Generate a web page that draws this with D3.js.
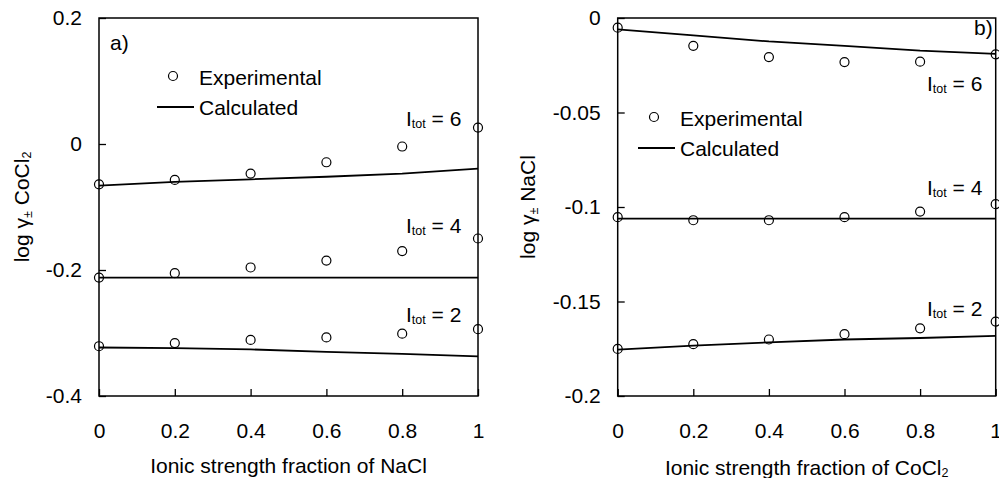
<!DOCTYPE html>
<html lang="en">
<head>
  <meta charset="UTF-8">
  <script src="https://d3js.org/d3.v7.min.js"></script>
  <title>log gamma vs ionic strength fraction</title>
  <style>
    body { margin: 0; background: white; }
    svg { display: block; font-family: "Liberation Sans", Arial, sans-serif; }
  </style>
</head>
<body>
  <svg width="999" height="478"></svg>
  <script>
    // x values of the measurements and the model curves
    const fractions = [0, 0.2, 0.4, 0.6, 0.8, 1];
    const xTicks = [0, 0.2, 0.4, 0.6, 0.8, 1];
    const xTickLabels = ["0", "0.2", "0.4", "0.6", "0.8", "1"];
    const levels = [6, 4, 2];

    // panel a) log γ± CoCl2 vs fraction of NaCl
    const expA6 = [-0.064, -0.057, -0.047, -0.029, -0.004, 0.026];
    const expA4 = [-0.212, -0.205, -0.196, -0.185, -0.170, -0.150];
    const expA2 = [-0.321, -0.316, -0.311, -0.307, -0.301, -0.294];
    const calcA6 = [-0.066, -0.060, -0.056, -0.052, -0.047, -0.039];
    const calcA4 = [-0.212, -0.212, -0.212, -0.212, -0.212, -0.212];
    const calcA2 = [-0.323, -0.324, -0.326, -0.330, -0.333, -0.337];
    const yTicksA = [0.2, 0, -0.2, -0.4];
    const yTickLabelsA = ["0.2", "0", "-0.2", "-0.4"];

    // panel b) log γ± NaCl vs fraction of CoCl2
    const expB6 = [-0.0051, -0.0147, -0.0207, -0.0233, -0.0231, -0.0192];
    const expB4 = [-0.1054, -0.1070, -0.1070, -0.1054, -0.1024, -0.0985];
    const expB2 = [-0.1751, -0.1726, -0.1701, -0.1673, -0.1642, -0.1606];
    const calcB6 = [-0.0060, -0.0092, -0.0124, -0.0147, -0.0173, -0.0190];
    const calcB4 = [-0.1061, -0.1061, -0.1061, -0.1061, -0.1061, -0.1061];
    const calcB2 = [-0.1755, -0.1733, -0.1716, -0.1701, -0.1693, -0.1682];
    const yTicksB = [0, -0.05, -0.1, -0.15, -0.2];
    const yTickLabelsB = ["0", "-0.05", "-0.1", "-0.15", "-0.2"];

    const svg = d3.select("svg");
    const FS = 21;

    const drawPanel = (p) => {
      const xScale = d3.scaleLinear().domain([0, 1]).range([p.left, p.right]);
      const yScale = d3.scaleLinear().domain(p.yDomain).range([396, 18]);
      const g = svg.append("g");

      const xAxis = d3.axisBottom(xScale)
        .tickValues(xTicks)
        .tickFormat((d, i) => xTickLabels[i])
        .tickSizeInner(-7).tickSizeOuter(0).tickPadding(27);
      const yAxis = d3.axisLeft(yScale)
        .tickValues(p.yTicks)
        .tickFormat((d, i) => p.yTickLabels[i])
        .tickSizeInner(-7).tickSizeOuter(0).tickPadding(17);

      g.append("g").attr("transform", "translate(0,396)").call(xAxis);
      g.append("g").attr("transform", `translate(${p.left},0)`).call(yAxis);
      g.selectAll(".domain").remove();
      g.selectAll(".tick line").attr("stroke", "#000").attr("stroke-width", 1.3);
      g.selectAll(".tick text").attr("font-size", FS).attr("font-family", null).attr("fill", "#000");

      // frame
      g.append("rect")
        .attr("x", p.left).attr("y", 18)
        .attr("width", p.right - p.left).attr("height", 378)
        .attr("fill", "none").attr("stroke", "#000").attr("stroke-width", 1.5);

      const line = d3.line().x((d, i) => xScale(fractions[i])).y(d => yScale(d));
      p.calc.forEach(series => {
        g.append("path").attr("d", line(series))
          .attr("fill", "none").attr("stroke", "#000").attr("stroke-width", 1.8);
      });
      p.exp.forEach(series => {
        g.selectAll(null).data(series).enter().append("circle")
          .attr("cx", (d, i) => xScale(fractions[i]))
          .attr("cy", d => yScale(d))
          .attr("r", 4.5)
          .attr("fill", "none").attr("stroke", "#000").attr("stroke-width", 1.2);
      });

      // I_tot labels
      levels.forEach((lv, i) => {
        const t = g.append("text").attr("x", p.levelX).attr("y", p.levelY[i]).attr("font-size", FS);
        t.append("tspan").text("I");
        t.append("tspan").attr("font-size", 12.5).attr("dy", 2).text("tot");
        t.append("tspan").attr("dy", -2).text(" = " + lv);
      });

      g.append("text").attr("x", p.tagX).attr("y", p.tagY).attr("font-size", FS).text(p.tag);

      // legend
      g.append("circle").attr("cx", p.legX).attr("cy", p.legY)
        .attr("r", 4.5).attr("fill", "none").attr("stroke", "#000").attr("stroke-width", 1.2);
      g.append("text").attr("x", p.legX + 26).attr("y", p.legY + 8.5).attr("font-size", FS).text("Experimental");
      g.append("line").attr("x1", p.legX - 16).attr("x2", p.legX + 21)
        .attr("y1", p.legY + 31).attr("y2", p.legY + 31)
        .attr("stroke", "#000").attr("stroke-width", 1.8);
      g.append("text").attr("x", p.legX + 26).attr("y", p.legY + 39).attr("font-size", FS).text("Calculated");

      // axis titles
      const xt = g.append("text").attr("x", (p.left + p.right) / 2).attr("y", p.xTitleY)
        .attr("text-anchor", "middle").attr("font-size", FS);
      xt.append("tspan").text(p.xTitle);
      if (p.xTitleSub) xt.append("tspan").attr("font-size", 12.5).attr("dy", 2).text(p.xTitleSub);

      const yt = g.append("text")
        .attr("transform", `translate(${p.yTitleX},207) rotate(-90)`)
        .attr("text-anchor", "middle").attr("font-size", FS);
      yt.append("tspan").text("log γ");
      yt.append("tspan").attr("font-size", 12.5).attr("dy", 3).text("±");
      yt.append("tspan").attr("dy", -3).text(" " + p.yTitle);
      if (p.yTitleSub) yt.append("tspan").attr("font-size", 12.5).attr("dy", 2).text(p.yTitleSub);
    };

    drawPanel({
      left: 99, right: 478, yDomain: [-0.4, 0.2],
      yTicks: yTicksA, yTickLabels: yTickLabelsA,
      exp: [expA6, expA4, expA2], calc: [calcA6, calcA4, calcA2],
      levelX: 406, levelY: [126, 233, 322],
      tag: "a)", tagX: 110, tagY: 50,
      legX: 173, legY: 76,
      xTitle: "Ionic strength fraction of NaCl", xTitleY: 473,
      yTitle: "CoCl", yTitleSub: "2", yTitleX: 29
    });

    drawPanel({
      left: 617.7, right: 995.7, yDomain: [-0.2, 0],
      yTicks: yTicksB, yTickLabels: yTickLabelsB,
      exp: [expB6, expB4, expB2], calc: [calcB6, calcB4, calcB2],
      levelX: 927, levelY: [91, 195, 316],
      tag: "b)", tagX: 974, tagY: 35,
      legX: 654, legY: 117,
      xTitle: "Ionic strength fraction of CoCl", xTitleSub: "2", xTitleY: 475,
      yTitle: "NaCl", yTitleX: 535
    });
  </script>
</body>
</html>
